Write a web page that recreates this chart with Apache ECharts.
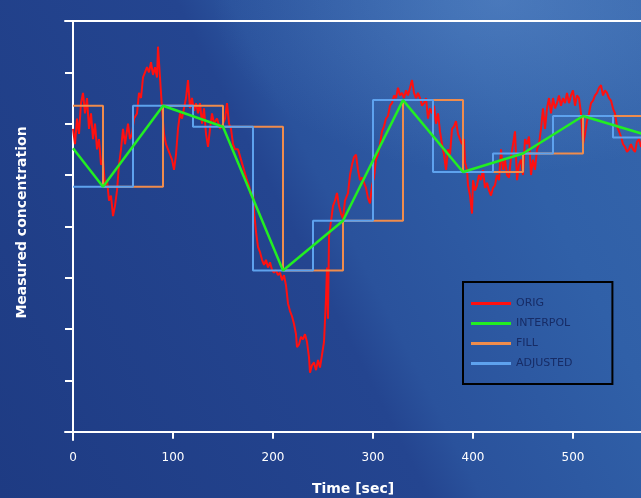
<!DOCTYPE html>
<html>
<head>
<meta charset="utf-8">
<script src="https://cdn.jsdelivr.net/npm/echarts@6/dist/echarts.min.js"></script>
<style>
  html, body { margin: 0; padding: 0; }
  body {
    width: 641px; height: 498px; overflow: hidden;
    background:
      radial-gradient(ellipse 45% 35% at 78% 0%, rgba(130,175,230,0.30), rgba(130,175,230,0) 100%),
      linear-gradient(63deg, #1e3b83 0%, #244590 48%, #2a529c 54%, #3060a8 78%, #3565ab 100%);
  }
  #chart { width: 641px; height: 498px; }
</style>
</head>
<body>
<div id="chart"></div>
<script>
// tick positions
const xTicks = [0, 100, 200, 300, 400, 500]
const yTicks = [0, 1, 2, 3, 4, 5, 6, 7, 8]

// ORIG - raw noisy signal
const origTime = [0, 2, 4, 6, 8, 10, 12, 14, 16, 18, 20, 22, 24, 26, 28, 30, 32, 34, 36, 38,
  40, 42, 44, 46, 48, 50, 52, 55, 57, 59, 61, 64, 66, 68, 70, 72, 74, 76, 78, 80,
  82, 84, 85, 87, 89, 91, 93, 95, 97, 99, 101, 103, 105, 107, 109, 111, 113, 115, 117, 119,
  121, 123, 125, 127, 129, 131, 133, 135, 137, 139, 141, 144, 147, 150, 152, 154, 156, 158, 160, 162,
  165, 168, 171, 174, 176, 178, 180, 181, 183, 185, 187, 189, 191, 193, 195, 197, 199, 201, 203, 205,
  207, 209, 211, 213, 215, 217, 219, 221, 223, 224, 226, 228, 230, 232, 234, 236, 237, 239, 241, 243,
  245, 247, 249, 251, 253, 254, 255, 256, 258, 260, 262, 264, 266, 268, 270, 272, 275, 277, 279, 281,
  283, 285, 287, 289, 291, 293, 295, 297, 299, 301, 303, 305, 307, 309, 311, 313, 315, 317, 319, 321,
  323, 325, 327, 329, 331, 333, 335, 337, 339, 341, 343, 345, 347, 349, 351, 353, 355, 357, 359, 361,
  363, 365, 367, 369, 371, 373, 375, 377, 379, 381, 383, 385, 387, 389, 391, 392, 394, 395, 397, 399,
  400, 402, 404, 406, 408, 410, 412, 414, 416, 418, 420, 422, 424, 426, 428, 430, 432, 434, 436, 438,
  440, 442, 444, 446, 448, 450, 452, 454, 456, 458, 460, 462, 464, 466, 468, 470, 472, 474, 476, 478,
  480, 482, 484, 486, 488, 490, 492, 494, 496, 498, 500, 502, 504, 506, 508, 510, 512, 514, 516, 518,
  520, 522, 524, 526, 528, 530, 532, 534, 536, 538, 540, 542, 544, 546, 548, 550, 552, 554, 556, 558,
  560, 562, 564, 566, 568, 570]
const origValue = [5.9, 5.6, 6.1, 5.8, 6.4, 6.6, 6.2, 6.5, 5.9, 6.2, 5.7, 6.0, 5.5, 5.7, 5.2, 5.3, 4.8, 4.9, 4.5, 4.6,
  4.2, 4.4, 4.7, 5.2, 5.5, 5.9, 5.6, 6.0, 5.7, 5.8, 6.1, 6.2, 6.6, 6.5, 6.9, 7.0, 7.1, 7.0, 7.2, 6.95,
  7.1, 6.9, 7.5, 6.9, 6.3, 5.8, 5.6, 5.5, 5.4, 5.3, 5.1, 5.4, 5.9, 6.2, 6.1, 6.3, 6.5, 6.85, 6.3, 6.5,
  6.25, 6.4, 6.2, 6.4, 6.0, 6.3, 5.8, 5.55, 5.9, 6.2, 6.0, 6.1, 5.9, 6.0, 6.1, 6.4, 6.0, 5.9, 5.6, 5.5,
  5.5, 5.3, 5.1, 4.9, 4.8, 4.6, 4.7, 4.3, 3.9, 3.6, 3.5, 3.35, 3.25, 3.35, 3.2, 3.3, 3.15, 3.1, 3.15, 3.05,
  3.1, 2.95, 3.05, 2.85, 2.5, 2.35, 2.25, 2.1, 1.9, 1.65, 1.7, 1.85, 1.8, 1.9, 1.75, 1.45, 1.15, 1.3, 1.35, 1.2,
  1.4, 1.25, 1.5, 1.75, 2.6, 3.2, 2.2, 3.8, 4.1, 4.4, 4.5, 4.65, 4.4, 4.25, 4.15, 4.5, 4.65, 5.0, 5.2, 5.35,
  5.4, 5.1, 4.9, 4.95, 4.85, 4.75, 4.55, 4.45, 4.8, 4.95, 5.3, 5.4, 5.6, 5.85, 5.95, 6.1, 6.15, 6.35, 6.4, 6.55,
  6.5, 6.7, 6.55, 6.6, 6.5, 6.65, 6.55, 6.7, 6.85, 6.6, 6.5, 6.6, 6.5, 6.35, 6.4, 6.5, 6.1, 6.3, 6.2, 6.35,
  6.0, 6.2, 5.85, 5.6, 5.4, 5.1, 5.5, 5.4, 5.9, 5.95, 6.05, 5.8, 5.7, 5.6, 5.7, 5.25, 5.1, 4.8, 4.6, 4.25,
  4.9, 4.7, 4.8, 5.0, 4.9, 5.1, 4.75, 4.85, 4.7, 4.6, 4.75, 4.8, 5.0, 4.9, 5.5, 5.1, 5.3, 5.0, 4.95, 5.35,
  5.6, 5.85, 4.9, 5.2, 5.3, 5.0, 5.7, 5.6, 5.75, 5.0, 5.3, 5.1, 5.5, 5.6, 5.9, 6.3, 5.9, 6.3, 6.5, 6.2,
  6.5, 6.3, 6.4, 6.55, 6.35, 6.5, 6.4, 6.6, 6.4, 6.55, 6.65, 6.35, 6.55, 6.5, 6.2, 5.6, 5.8, 6.05, 6.2, 6.4,
  6.45, 6.55, 6.6, 6.7, 6.75, 6.55, 6.65, 6.6, 6.5, 6.45, 6.3, 6.2, 5.95, 5.85, 5.75, 5.6, 5.55, 5.45, 5.5, 5.6,
  5.5, 5.45, 5.65, 5.7, 5.55, 5.6]

// ADJUSTED - 60 s blocks
const adjustedTime = [0, 60, 120, 180, 240, 300, 360, 420, 480, 540, 570]
const adjustedValue = [4.77, 6.35, 5.94, 3.14, 4.11, 6.46, 5.06, 5.42, 6.15, 5.73, 5.73]

// FILL - blocks shifted by 30 s
const fillTime = [0, 30, 90, 150, 210, 270, 330, 390, 450, 510, 570]
const fillValue = [6.35, 4.77, 6.35, 5.94, 3.14, 4.11, 6.46, 5.06, 5.42, 6.15, 6.15]

// INTERPOL - linear through block centres
const interpolTime = [0, 30, 90, 150, 210, 270, 330, 390, 450, 510, 570]
const interpolValue = [5.52, 4.77, 6.35, 5.94, 3.14, 4.11, 6.46, 5.06, 5.42, 6.15, 5.8]

function pairs(xs, ys) {
  return xs.map(function (x, i) { return [x, ys[i]] })
}

const chart = echarts.init(document.getElementById('chart'), null, { renderer: 'canvas' })

const white = '#ffffff'
const option = {
  backgroundColor: 'transparent',
  animation: false,
  grid: { left: 65, right: 0, top: 21, bottom: 58, outerBoundsMode: 'none', containLabel: false },
  legend: {
    data: ['ORIG', 'INTERPOL', 'FILL', 'ADJUSTED'],
    orient: 'vertical',
    left: 463,
    top: 282,
    padding: [15, 40, 14, 8],
    icon: 'rect',
    itemWidth: 40,
    itemHeight: 3,
    itemGap: 7,
    borderColor: '#000000',
    borderWidth: 2,
    textStyle: { color: '#172c66', fontSize: 11, lineHeight: 13, fontFamily: 'DejaVu Sans' }
  },
  xAxis: [
    {
      type: 'value',
      min: -8,
      max: 568,
      name: 'Time [sec]',
      nameLocation: 'middle',
      nameGap: 42,
      nameTextStyle: { color: white, fontSize: 14, fontWeight: 'bold', fontFamily: 'DejaVu Sans' },
      axisLine: { onZero: true, lineStyle: { color: white, width: 2 } },
      axisTick: { show: true, customValues: xTicks, length: 7, lineStyle: { color: white, width: 2 } },
      axisLabel: { customValues: xTicks, color: white, fontSize: 12, margin: 12, fontFamily: 'DejaVu Sans' },
      splitLine: { show: false }
    },
    {
      type: 'value',
      position: 'top',
      min: -8,
      max: 568,
      axisLine: { onZero: false, lineStyle: { color: white, width: 2 } },
      axisTick: { show: false },
      axisLabel: { show: false },
      splitLine: { show: false }
    }
  ],
  yAxis: {
    type: 'value',
    min: -0.16,
    max: 8,
    name: 'Measured concentration',
    nameLocation: 'middle',
    nameGap: 36,
    nameTextStyle: { color: white, fontSize: 14, fontWeight: 'bold', fontFamily: 'DejaVu Sans', padding: [0, 0, 0, 16] },
    axisLine: { show: true, onZero: true, lineStyle: { color: white, width: 2 } },
    axisTick: { show: true, customValues: yTicks, length: 8, lineStyle: { color: white, width: 2 } },
    axisLabel: { show: false },
    splitLine: { show: false }
  },
  series: [
    {
      name: 'ORIG',
      type: 'line',
      data: pairs(origTime, origValue),
      symbol: 'none',
      lineStyle: { color: '#ff1010', width: 2 },
      itemStyle: { color: '#ff1010' },
      z: 2
    },
    {
      name: 'FILL',
      type: 'line',
      step: 'end',
      data: pairs(fillTime, fillValue),
      symbol: 'none',
      lineStyle: { color: '#f08c4c', width: 2 },
      itemStyle: { color: '#f08c4c' },
      z: 3
    },
    {
      name: 'ADJUSTED',
      type: 'line',
      step: 'end',
      data: pairs(adjustedTime, adjustedValue),
      symbol: 'none',
      lineStyle: { color: '#5ea2ee', width: 2 },
      itemStyle: { color: '#5ea2ee' },
      z: 4
    },
    {
      name: 'INTERPOL',
      type: 'line',
      data: pairs(interpolTime, interpolValue),
      symbol: 'none',
      lineStyle: { color: '#22ee22', width: 2.5 },
      itemStyle: { color: '#22ee22' },
      z: 5
    }
  ]
}

chart.setOption(option)
window.addEventListener('resize', function () {
  chart.resize()
})
</script>
</body>
</html>
